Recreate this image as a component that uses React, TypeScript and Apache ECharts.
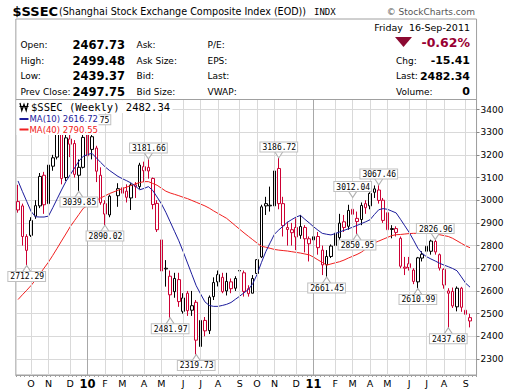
import React, { useEffect, useRef } from 'react';
import * as echarts from 'echarts';

// Weekly bars (week start, Monday) – last entry is an empty pad slot
const weeks: string[] = [
  '2009-09-14','2009-09-21','2009-09-28','2009-10-05','2009-10-12','2009-10-19','2009-10-26','2009-11-02','2009-11-09','2009-11-16',
  '2009-11-23','2009-11-30','2009-12-07','2009-12-14','2009-12-21','2009-12-28','2010-01-04','2010-01-11','2010-01-18','2010-01-25',
  '2010-02-01','2010-02-08','2010-02-15','2010-02-22','2010-03-01','2010-03-08','2010-03-15','2010-03-22','2010-03-29','2010-04-05',
  '2010-04-12','2010-04-19','2010-04-26','2010-05-03','2010-05-10','2010-05-17','2010-05-24','2010-05-31','2010-06-07','2010-06-14',
  '2010-06-21','2010-06-28','2010-07-05','2010-07-12','2010-07-19','2010-07-26','2010-08-02','2010-08-09','2010-08-16','2010-08-23',
  '2010-08-30','2010-09-06','2010-09-13','2010-09-20','2010-09-27','2010-10-04','2010-10-11','2010-10-18','2010-10-25','2010-11-01',
  '2010-11-08','2010-11-15','2010-11-22','2010-11-29','2010-12-06','2010-12-13','2010-12-20','2010-12-27','2011-01-03','2011-01-10',
  '2011-01-17','2011-01-24','2011-01-31','2011-02-07','2011-02-14','2011-02-21','2011-02-28','2011-03-07','2011-03-14','2011-03-21',
  '2011-03-28','2011-04-04','2011-04-11','2011-04-18','2011-04-25','2011-05-02','2011-05-09','2011-05-16','2011-05-23','2011-05-30',
  '2011-06-06','2011-06-13','2011-06-20','2011-06-27','2011-07-04','2011-07-11','2011-07-18','2011-07-25','2011-08-01','2011-08-08',
  '2011-08-15','2011-08-22','2011-08-29','2011-09-05','2011-09-12','pad'
];

const opens: (number | null)[] = [
  2994,2975,2840,2845,2930,2975,3110,2985,3150,3190,
  3310,3100,3270,3250,3110,3145,3290,3280,3230,3110,
  2985,2935,null,3020,3055,3040,3010,3068,3060,3148,
  3145,3096,2986,2825,2700,2665,2597,2650,2510,2590,
  2515,2550,2355,2470,2425,2575,2640,2660,2600,2640,
  2612,2690,2680,2610,2590,2677,2750,2985,2975,2975,
  3140,2985,2880,2870,2880,2845,2880,2830,2825,2840,
  2780,2715,2752,2800,2835,2905,2885,2960,2920,2915,
  2985,2975,3035,3045,3000,2945,2875,2875,2832,2700,
  2720,2692,2640,2745,2775,2775,2818,2760,2695,2600,
  2598,2530,2612,2515,2467.73
];
const highs: (number | null)[] = [
  3068,2985,2850,2925,3000,3120,3125,3170,3200,3340,
  3361,3305,3300,3265,3180,3290,3295,3306.75,3240,3145,
  3000,3025,null,3075,3080,3070,3075,3080,3165,3170,
  3181.66,3100,3000,2860,2736,2690,2680,2680,2590,2600,
  2600,2560,2480,2485,2580,2660,2690,2680,2680,2655,
  2665,2700,2690,2625,2670,2740,2980,3015,3060,3140,
  3186.72,3015,2905,2900,2920,2935,2890,2840,2870,2860,
  2800,2780,2805,2870,2940,2935,2980,3012.04,2950,2990,
  3000,3035,3065,3067.46,3010,2960,2890,2885,2840,2750,
  2750,2700,2750,2775,2810,2826,2826.96,2765,2700,2612,
  2615,2620,2618,2535,2499.48
];
const lows: (number | null)[] = [
  2945,2800,2712.29,2838,2918,2965,2940,2965,3130,3180,
  3070,3085,3190,3100,3039.85,3140,3175,3180,3080,2980,
  2890.02,2925,null,2971,2975,2990,2957,3010,3050,3080,
  3095,2960,2860,2680,2619,2481.97,2570,2530,2500,2490,
  2490,2319.73,2330,2400,2410,2560,2620,2590,2580,2590,
  2600,2640,2575,2575,2590,2675,2745,2935,2950,2960,
  2960,2840,2800,2800,2780,2830,2770,2730,2800,2760,
  2670,2661.45,2745,2770,2825,2860,2870,2920,2850.95,2890,
  2940,2960,3010,2985,2900,2860,2832,2840,2700,2670,
  2690,2630,2610.99,2730,2760,2760,2760,2690,2610,2437.68,
  2525,2510,2508,2470,2439.37
];
const closes: (number | null)[] = [
  2957,2840,2779,2911,2976,3105,2980,3155,3187,3308,
  3096,3275,3247,3114,3145,3277,3196,3224,3128,2989,
  2939,3018,null,3051,3031,3013,3067,3060,3155,3130,
  3129,2981,2870,2688,2697,2583,2655,2553,2569,2513,
  2535,2383,2470,2424,2572,2637,2672,2597,2642,2610,
  2655,2688,2598,2588,2655,2738,2971,2975,2978,3129,
  2985,2888,2871,2857,2838,2884,2830,2808,2839,2791,
  2715,2752,2798,2855,2899,2880,2955,2938,2906,2977,
  2967,3030,3050,2999,2911,2870,2871,2858,2709,2705,
  2703,2642,2746,2762,2797,2820,2772,2701,2626,2590,
  2534,2612,2528,2497,2482.34
];
const priorClose = 2979;

const ma10: (number | null)[] = [
  3085,3039,2995,2951,2927,2926,2926,2930,2967,3006,
  3045,3082,3112,3142,3172,3194,3201,3207,3187,3167,
  3148,3132,null,3105,3095,3086,3076,3062,3046,3052,
  3060,3043,3014,2984,2947,2905,2863,2821,2773,2723,
  2673,2623,2587,2552,2536,2532,2532,2536,2541,2549,
  2563,2577,2592,2606,2632,2673,2725,2773,2812,2850,
  2869,2886,2903,2915,2926,2933,2916,2900,2883,2868,
  2854,2850,2847,2853,2860,2867,2874,2881,2889,2897,
  2905,2914,2937,2958,2963,2960,2952,2944,2916,2887,
  2858,2824,2788,2765,2751,2741,2732,2722,2714,2707,
  2699,2689,2662,2634,2616.72
];
const ma40: (number | null)[] = [
  2562,2583,2603,2624,2648,2674,2701,2727,2757,2788,
  2820,2851,2883,2910,2937,2964,2976,2988,3000,3010,
  3019,3029,null,3044,3051,3058,3065,3072,3078,3082,
  3082,3074,3066,3053,3040,3032,3026,3020,3013,3007,
  2999,2991,2983,2975,2965,2953,2942,2931,2920,2904,
  2888,2872,2856,2841,2826,2811,2797,2793,2788,2783,
  2780,2778,2776,2773,2770,2767,2763,2759,2749,2737,
  2726,2714,2719,2724,2729,2736,2745,2753,2761,2771,
  2785,2800,2812,2820,2828,2836,2844,2848,2849,2851,
  2853,2854,2854,2854,2854,2854,2852,2848,2844,2840,
  2832,2821,2810,2799,2790.55
];

const monthIdx = [3,7,12,16,20,24,29,33,38,42,46,51,55,59,64,68,73,77,81,85,90,94,98,103];
const monthText = ['O','N','D','10','F','M','A','M','J','J','A','S','O','N','D','11','F','M','A','M','J','J','A','S'];
const yearIdx = [16, 68];
const yTicks = [2300,2400,2500,2600,2700,2800,2900,3000,3100,3200,3300,3400];

const peakIdx = [2,14,17,20,30,35,41,60,71,77,78,83,92,96,99];
const peakVal = [2712.29,3039.85,3306.75,2890.02,3181.66,2481.97,2319.73,3186.72,2661.45,3012.04,2850.95,3067.46,2610.99,2826.96,2437.68];
const peakSide = ['low','low','high','low','high','low','low','high','low','high','low','high','low','high','low'];

const RED = '#cc0033';
const BLACK = '#000000';
const MA10C = '#1c1c9c';
const MA40C = '#f02020';
const FRAME = '#a0a0a0';
const GRIDC = '#d9d9d9';
const SANS = '"DejaVu Sans", Verdana, sans-serif';
const MONO = '"DejaVu Sans Mono", monospace';

export default function App() {
  const ref = useRef<HTMLDivElement>(null);
  useEffect(() => {
    if (!ref.current) return;
    const chart = echarts.init(ref.current, null, { renderer: 'svg' });

    const candleData: any[] = [];
    let prev = priorClose;
    for (let i = 0; i < weeks.length; i++) {
      const o = opens[i];
      const c = closes[i];
      if (o == null || c == null || i >= opens.length) {
        candleData.push(['-', '-', '-', '-']);
        continue;
      }
      const col = c < prev ? RED : BLACK;
      candleData.push({
        value: [o, c, lows[i], highs[i]],
        itemStyle: { color: '#ffffff', color0: col, borderColor: col, borderColor0: col, borderColorDoji: col },
      });
      prev = c;
    }

    const vLines = monthIdx.map((i) => ({
      xAxis: weeks[i],
      lineStyle: { color: yearIdx.includes(i) ? '#a8a8a8' : GRIDC, width: 1, type: 'solid' },
    }));

    const marks = peakIdx.map((idx, k) => {
      const hi = peakSide[k] === 'high';
      return {
        coord: [weeks[idx], peakVal[k]],
        value: peakVal[k],
        symbol: hi ? 'path://M0,0 L4,6 L8,0' : 'path://M0,6 L4,0 L8,6',
        symbolSize: [8, 6],
        symbolOffset: [0, hi ? -3 : 3],
        label: { position: hi ? 'top' : 'bottom', distance: 0 },
      };
    });

    const txt = (x: number, y: number, text: string, font: string, fill = '#000', align = 'left', extra: any = {}) => ({
      type: 'text', x, y, z: 100,
      style: { text, font, fill, align, verticalAlign: 'middle', textAlign: align, textVerticalAlign: 'middle', ...extra },
    });

    const LBL = '9px ' + SANS;
    const VAL = 'bold 11.5px ' + SANS;
    const VALR = 'bold 11px ' + SANS;
    const rowY = [44.5, 60.5, 76, 91.5];

    const graphic: any[] = [
      // header box
      { type: 'rect', z: 90, shape: { x: 15.85, y: 19, width: 460.7, height: 80.5 }, style: { fill: 'none', stroke: FRAME, lineWidth: 1 } },
      txt(12.5, 11, '$SSEC', 'bold 13px ' + SANS),
      txt(59, 11.5, '(Shanghai Stock Exchange Composite Index (EOD))', '9.6px ' + SANS),
      txt(314, 11.5, 'INDX', '9px ' + MONO),
      txt(475, 11.5, '© StockCharts.com', '9px ' + SANS, '#555555', 'right'),
      txt(20.5, rowY[0], 'Open:', LBL), txt(72.5, rowY[0], '2467.73', VAL),
      txt(20.5, rowY[1], 'High:', LBL), txt(72.5, rowY[1], '2499.48', VAL),
      txt(20.5, rowY[2], 'Low:', LBL), txt(72.5, rowY[2], '2439.37', VAL),
      txt(20.5, rowY[3], 'Prev Close:', LBL), txt(72.5, rowY[3], '2497.75', VAL),
      txt(136.5, rowY[0], 'Ask:', LBL), txt(136.5, rowY[1], 'Ask Size:', LBL),
      txt(136.5, rowY[2], 'Bid:', LBL), txt(136.5, rowY[3], 'Bid Size:', LBL),
      txt(207.5, rowY[0], 'P/E:', LBL), txt(207.5, rowY[1], 'EPS:', LBL),
      txt(207.5, rowY[2], 'Last:', LBL), txt(207.5, rowY[3], 'VWAP:', LBL),
      txt(470, 27.5, 'Friday  16-Sep-2011', '9.5px ' + SANS, '#000', 'right'),
      { type: 'polygon', z: 100, shape: { points: [[395, 37], [412, 37], [403.5, 47]] }, style: { fill: '#8c0a32' } },
      txt(470, 42.5, '-0.62%', 'bold 12.5px ' + SANS, '#990033', 'right'),
      txt(396, rowY[1], 'Chg:', LBL), txt(470, rowY[1], '-15.41', VALR, '#000', 'right'),
      txt(396, rowY[2], 'Last:', LBL), txt(470, rowY[2], '2482.34', VALR, '#000', 'right'),
      txt(396, rowY[3], 'Volume:', LBL), txt(470, rowY[3], '0', VALR, '#000', 'right'),
      // in-plot legend backgrounds
      { type: 'rect', z: 95, shape: { x: 16.5, y: 100.2, width: 156, height: 12.8 }, style: { fill: '#ffffff' } },
      { type: 'rect', z: 95, shape: { x: 16.5, y: 113, width: 82, height: 22 }, style: { fill: '#ffffff' } },
      // candle icon
      { type: 'polyline', z: 100, shape: { points: [[20, 103], [21.8, 110.5], [24, 104.5], [26.2, 110.5], [28, 103]] }, style: { stroke: '#000', lineWidth: 1.3, fill: 'none' } },
      { type: 'line', z: 100, shape: { x1: 19.5, y1: 106.5, x2: 28.5, y2: 106.5 }, style: { stroke: '#000', lineWidth: 1 } },
      txt(31, 107, '$SSEC (Weekly) 2482.34', '10.5px ' + MONO),
      { type: 'line', z: 100, shape: { x1: 19.5, y1: 119, x2: 28.5, y2: 119 }, style: { stroke: MA10C, lineWidth: 2 } },
      txt(29.5, 119, 'MA(10) 2616.72', '8.5px ' + SANS, MA10C),
      { type: 'line', z: 100, shape: { x1: 19.5, y1: 129.5, x2: 28.5, y2: 129.5 }, style: { stroke: MA40C, lineWidth: 2 } },
      txt(29.5, 129.5, 'MA(40) 2790.55', '8.5px ' + SANS, MA40C),
    ];

    chart.setOption({
      animation: false,
      backgroundColor: '#ffffff',
      grid: {
        left: 15.85, top: 99.5, width: 460.7, height: 275.5,
        show: true, borderColor: FRAME, borderWidth: 1, backgroundColor: '#ffffff',
        containLabel: false, outerBoundsMode: 'none',
      },
      xAxis: {
        type: 'category', data: weeks, boundaryGap: true,
        axisLine: { show: true, lineStyle: { color: FRAME } },
        axisTick: { show: true, interval: 0, length: 2, lineStyle: { color: FRAME } },
        axisLabel: {
          interval: (idx: number) => monthIdx.includes(idx),
          formatter: (_v: string, idx: number) => {
            const k = monthIdx.indexOf(idx);
            if (k < 0) return '';
            return yearIdx.includes(idx) ? '{b|' + monthText[k] + '}' : monthText[k];
          },
          color: '#000', fontFamily: SANS, fontSize: 9.5, margin: 3,
          rich: { b: { fontWeight: 'bold', fontSize: 11.5, fontFamily: SANS, color: '#000' } },
        },
        splitLine: { show: false },
      },
      yAxis: {
        type: 'value', position: 'right', min: 2229.4, max: 3444.1,
        axisLine: { show: true, lineStyle: { color: FRAME } },
        axisTick: { show: true, customValues: yTicks, length: 3, lineStyle: { color: '#888' } },
        axisLabel: {
          customValues: yTicks, color: '#000', fontFamily: SANS, fontSize: 9, margin: 4,
          formatter: (v: number) => String(Math.round(v)),
        },
        splitLine: { show: true, lineStyle: { color: GRIDC, width: 1 } },
      },
      graphic,
      series: [
        {
          type: 'line', data: [], z: 1, silent: true,
          markLine: { silent: true, symbol: ['none', 'none'], label: { show: false }, animation: false, data: vLines },
        },
        {
          type: 'candlestick', data: candleData, barWidth: 3, z: 2,
          itemStyle: { borderWidth: 1 },
        },
        {
          type: 'line', data: ma40, z: 3, showSymbol: false, connectNulls: true, silent: true,
          lineStyle: { color: MA40C, width: 1 },
        },
        {
          type: 'line', data: ma10, z: 3, showSymbol: false, connectNulls: true, silent: true,
          lineStyle: { color: MA10C, width: 1 },
        },
        {
          type: 'line', data: [], z: 10, silent: true,
          markPoint: {
            silent: true, animation: false,
            itemStyle: { color: '#ffffff', borderColor: '#b0b0b0', borderWidth: 1 },
            label: {
              show: true, formatter: (p: any) => Number(p.value).toFixed(2),
              fontFamily: MONO, fontSize: 8, color: '#000', backgroundColor: '#ffffff',
              borderColor: '#c0c0c0', borderWidth: 1, padding: [1, 1, 0, 2],
            },
            data: marks,
          },
        },
      ],
    });
    return () => chart.dispose();
  }, []);
  return <div ref={ref} style={{ position: 'absolute', left: 0, top: 0, width: 520, height: 391, background: '#fff' }} />;
}
